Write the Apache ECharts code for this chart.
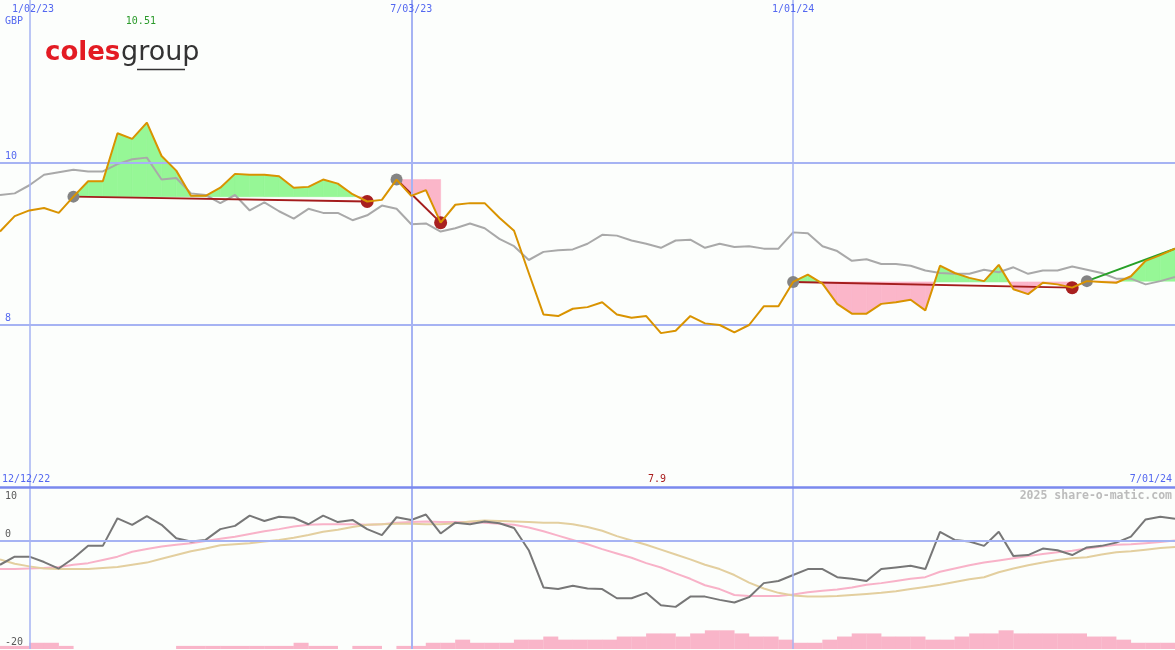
<!DOCTYPE html>
<html><head><meta charset="utf-8">
<script src="https://cdn.jsdelivr.net/npm/echarts@6/dist/echarts.min.js"></script>
<style>html,body{margin:0;padding:0;background:#fcfefc;}#c{width:1175px;height:650px;}</style>
</head><body><div id="c"></div>
<script>
// ---- data (weekly, index 0 = week of 19 Dec 2022, index 80 = 1 Jul 2024) ----
const weekTickIdx = [2, 28, 54];
const weekTickLabels = ['1/02/23', '7/03/23', '1/01/24'];
const startLabel = '12/12/22';
const endLabel = '7/01/24';
const currency = 'GBP';
const maxLabel = '10.51';
const minLabel = '7.9';
const priceTicks = [10, 8];
const momTicks = [10, 0, -20];

const price = [
  9.15, 9.34, 9.41, 9.44, 9.38, 9.58, 9.77, 9.77, 10.36, 10.29,
  10.49, 10.08, 9.90, 9.59, 9.59, 9.69, 9.86, 9.85, 9.85, 9.83,
  9.69, 9.70, 9.79, 9.74, 9.61, 9.52, 9.54, 9.79, 9.59, 9.66,
  9.26, 9.48, 9.50, 9.50, 9.32, 9.16, 8.64, 8.13, 8.11, 8.20,
  8.22, 8.28, 8.13, 8.09, 8.11, 7.90, 7.93, 8.11, 8.02, 8.00,
  7.91, 8.00, 8.23, 8.23, 8.53, 8.62, 8.51, 8.26, 8.14, 8.14,
  8.26, 8.28, 8.31, 8.18, 8.73, 8.64, 8.58, 8.54, 8.74, 8.44,
  8.38, 8.52, 8.50, 8.46, 8.54, 8.53, 8.52, 8.60, 8.79, 8.86,
  8.94
];
const indexLine = [
  9.60, 9.62, 9.72, 9.85, 9.88, 9.91, 9.89, 9.89, 9.98, 10.04,
  10.06, 9.79, 9.81, 9.62, 9.60, 9.50, 9.60, 9.41, 9.51, 9.40,
  9.31, 9.43, 9.38, 9.38, 9.29, 9.35, 9.47, 9.43, 9.24, 9.25,
  9.15, 9.19, 9.25, 9.19, 9.06, 8.97, 8.80, 8.90, 8.92, 8.93,
  9.00, 9.11, 9.10, 9.04, 9.00, 8.95, 9.04, 9.05, 8.95, 9.00,
  8.96, 8.97, 8.94, 8.94, 9.14, 9.13, 8.97, 8.91, 8.79, 8.81,
  8.75, 8.75, 8.73, 8.67, 8.64, 8.63, 8.63, 8.68, 8.65, 8.71,
  8.63, 8.67, 8.67, 8.72, 8.68, 8.64, 8.57, 8.57, 8.50, 8.54,
  8.59
];
const momentum = [
  -4.4, -2.9, -2.9, -3.9, -5.1, -3.2, -0.9, -0.9, 4.2, 3.0,
  4.6, 3.0, 0.5, -0.1, 0.2, 2.2, 2.8, 4.7, 3.7, 4.5,
  4.3, 3.1, 4.7, 3.5, 3.9, 2.2, 1.1, 4.4, 3.9, 4.9,
  1.4, 3.4, 3.1, 3.6, 3.3, 2.4, -1.7, -8.6, -8.9, -8.3,
  -8.8, -8.9, -10.6, -10.6, -9.6, -11.9, -12.2, -10.3, -10.3, -10.9,
  -11.4, -10.4, -7.8, -7.4, -6.3, -5.2, -5.2, -6.7, -7.0, -7.4,
  -5.2, -4.9, -4.6, -5.2, 1.7, 0.2, -0.1, -0.9, 1.7, -2.8,
  -2.6, -1.4, -1.7, -2.6, -1.2, -0.9, -0.3, 0.8, 4.0, 4.5,
  4.1
];
const momAvgFast = [
  -5.2, -5.2, -5.1, -5.0, -4.8, -4.4, -4.1, -3.5, -2.9, -2.0,
  -1.5, -1.0, -0.7, -0.4, 0.0, 0.4, 0.8, 1.3, 1.8, 2.2,
  2.7, 3.0, 3.1, 3.1, 3.1, 3.0, 3.1, 3.4, 3.5, 3.6,
  3.5, 3.5, 3.5, 3.4, 3.2, 3.0, 2.5, 1.8, 1.0, 0.2,
  -0.6, -1.5, -2.3, -3.1, -4.1, -4.9, -6.0, -7.0, -8.2, -8.9,
  -10.0, -10.2, -10.2, -10.2, -9.9, -9.5, -9.2, -9.0, -8.6, -8.1,
  -7.8, -7.4, -7.0, -6.7, -5.7, -5.1, -4.5, -4.0, -3.6, -3.2,
  -2.8, -2.4, -2.1, -1.8, -1.4, -1.0, -0.7, -0.6, -0.4, -0.2,
  0.1
];
const momAvgSlow = [
  -3.4, -4.2, -4.7, -5.1, -5.2, -5.2, -5.2, -5.0, -4.8, -4.4,
  -4.0, -3.3, -2.6, -1.9, -1.4, -0.8, -0.6, -0.4, -0.1, 0.2,
  0.6, 1.1, 1.7, 2.1, 2.6, 3.0, 3.1, 3.2, 3.2, 3.1,
  3.1, 3.3, 3.6, 3.8, 3.7, 3.6, 3.5, 3.4, 3.4, 3.1,
  2.6, 1.9, 0.9, 0.1, -0.7, -1.6, -2.5, -3.4, -4.4, -5.2,
  -6.3, -7.7, -8.8, -9.6, -10.1, -10.3, -10.3, -10.2, -10.0, -9.8,
  -9.6, -9.3, -8.9, -8.5, -8.1, -7.6, -7.1, -6.7, -5.8, -5.1,
  -4.5, -4.0, -3.5, -3.2, -3.0, -2.5, -2.1, -1.9, -1.6, -1.3,
  -1.1
];
// relative weekly volume (bar k spans week k .. k+1)
const volumeLevel = [
  1, 1, 2, 2, 1, 0, 0, 0, 0, 0,
  0, 0, 1, 1, 1, 1, 1, 1, 1, 1,
  2, 1, 1, 0, 1, 1, 0, 1, 1, 2,
  2, 3, 2, 2, 2, 3, 3, 4, 3, 3,
  3, 3, 4, 4, 5, 5, 4, 5, 6, 6,
  5, 4, 4, 3, 2, 2, 3, 4, 5, 5,
  4, 4, 4, 3, 3, 4, 5, 5, 6, 5,
  5, 5, 5, 5, 4, 4, 3, 2, 2, 2
];
// trades: [entry week index, exit week index]
const closedTrades = [[5, 25], [27, 30], [54, 73]];
const openTrade = [74, 80];

// ---- styles ----
const GRID = '#a6b3f3', SEP = '#7a89ee', BLUE_TXT = '#5468f0';
const ORANGE = '#d99300', GRAY = '#a9a9a9';
const GREEN_FILL = '#96f796', PINK_FILL = '#fbb6c9';
const TRADE_RED = '#a41c1c', DOT_RED = '#a82020', DOT_GRAY = '#848484', TREND_GREEN = '#27a027';
const MOM = '#777777', FAST = '#f8b2c8', SLOW = '#e3cf9f', VOL = '#f9b5c9';
const MONO = '"DejaVu Sans Mono", monospace';

const pairs = arr => arr.map((v, i) => [i, v]);
const allTrades = closedTrades.concat([openTrade]);

function tradeFill(params, api) {
  const s = api.value(0), e = api.value(1), E = api.value(2);
  const kids = [];
  const poly = (x0, y0, x1, y1, sign) => {
    if (sign === 0) return;
    const c = sign > 0 ? GREEN_FILL : PINK_FILL;
    kids.push({
      type: 'polygon',
      shape: { points: [api.coord([x0, E]), api.coord([x0, y0]), api.coord([x1, y1]), api.coord([x1, E])] },
      style: { fill: c, stroke: c, lineWidth: 0.6 }
    });
  };
  for (let i = s; i < e; i++) {
    const a = price[i] - E, b = price[i + 1] - E;
    if (a * b < 0) {
      const xm = i + a / (a - b);
      poly(i, price[i], xm, E, a);
      poly(xm, E, i + 1, price[i + 1], b);
    } else {
      poly(i, price[i], i + 1, price[i + 1], a + b);
    }
  }
  return { type: 'group', children: kids };
}

const vLines = weekTickIdx.map((x, k) => ({ xAxis: x, lineStyle: { width: k === 1 ? 2 : 1.5 } }));
const mlBase = { silent: true, symbol: ['none', 'none'], label: { show: false }, emphasis: { disabled: true }, animation: false };

const series = [
  { type: 'custom', name: 'fills', xAxisIndex: 0, yAxisIndex: 0, silent: true, z: 1,
    renderItem: tradeFill, encode: { x: [0, 1], y: 2 },
    data: allTrades.map(t => [t[0], t[1], price[t[0]]]) },
  { type: 'line', name: 'gridTop', xAxisIndex: 0, yAxisIndex: 0, data: [], z: 2,
    markLine: Object.assign({}, mlBase, { lineStyle: { color: GRID, width: 2, type: 'solid' },
      data: priceTicks.map(v => ({ yAxis: v })).concat(vLines) }) },
  { type: 'line', name: 'index', xAxisIndex: 0, yAxisIndex: 0, data: pairs(indexLine), z: 3,
    symbol: 'none', lineStyle: { color: GRAY, width: 2 }, itemStyle: { color: GRAY } }
];
closedTrades.forEach(t => series.push({
  type: 'line', xAxisIndex: 0, yAxisIndex: 0, z: 4, symbol: 'none',
  data: [[t[0], price[t[0]]], [t[1], price[t[1]]]], lineStyle: { color: TRADE_RED, width: 2 }
}));
series.push({
  type: 'line', xAxisIndex: 0, yAxisIndex: 0, z: 4, symbol: 'none',
  data: [[openTrade[0], price[openTrade[0]]], [openTrade[1], price[openTrade[1]]]],
  lineStyle: { color: TREND_GREEN, width: 2 }
});
series.push({
  type: 'scatter', name: 'entries', xAxisIndex: 0, yAxisIndex: 0, z: 5, symbolSize: 12,
  data: allTrades.map(t => [t[0], price[t[0]]]), itemStyle: { color: DOT_GRAY, opacity: 1 }
});
series.push({
  type: 'scatter', name: 'exits', xAxisIndex: 0, yAxisIndex: 0, z: 5, symbolSize: 13,
  data: closedTrades.map(t => [t[1], price[t[1]]]), itemStyle: { color: DOT_RED, opacity: 1 }
});
series.push({
  type: 'line', name: 'price', xAxisIndex: 0, yAxisIndex: 0, data: pairs(price), z: 6,
  symbol: 'none', lineStyle: { color: ORANGE, width: 2 }, itemStyle: { color: ORANGE }
});
// lower panel
series.push({
  type: 'bar', name: 'volume', xAxisIndex: 1, yAxisIndex: 2, z: 1, barWidth: 15,
  data: volumeLevel.map((v, k) => [k + 0.5, v]), itemStyle: { color: VOL }
});
series.push({
  type: 'line', name: 'gridBottom', xAxisIndex: 1, yAxisIndex: 1, data: [], z: 2,
  markLine: Object.assign({}, mlBase, { lineStyle: { color: GRID, width: 2, type: 'solid' },
    data: [{ yAxis: 0 }].concat(vLines).concat([{ yAxis: 10, lineStyle: { color: SEP, width: 2.5 } }]) })
});
series.push({ type: 'line', name: 'fast', xAxisIndex: 1, yAxisIndex: 1, data: pairs(momAvgFast), z: 3,
  symbol: 'none', lineStyle: { color: FAST, width: 2 } });
series.push({ type: 'line', name: 'slow', xAxisIndex: 1, yAxisIndex: 1, data: pairs(momAvgSlow), z: 3,
  symbol: 'none', lineStyle: { color: SLOW, width: 2 } });
series.push({ type: 'line', name: 'momentum', xAxisIndex: 1, yAxisIndex: 1, data: pairs(momentum), z: 4,
  symbol: 'none', lineStyle: { color: MOM, width: 2 } });

const lastIdx = price.length - 1;
const option = {
  animation: false,
  backgroundColor: '#fcfefc',
  grid: [
    { left: 0, right: 0, top: 0, height: 487.5, containLabel: false },
    { left: 0, right: 0, top: 487, height: 162, containLabel: false }
  ],
  xAxis: [
    { type: 'value', gridIndex: 0, min: 0, max: lastIdx, show: false },
    { type: 'value', gridIndex: 1, min: 0, max: lastIdx, show: false }
  ],
  yAxis: [
    { type: 'value', gridIndex: 0, min: 6, max: 12, show: false },
    { type: 'value', gridIndex: 1, min: -20, max: 10, show: false },
    { type: 'value', gridIndex: 1, min: 0, max: 52, show: false }
  ],
  series: series
};

const chart = echarts.init(document.getElementById('c'), null, { renderer: 'canvas' });
chart.setOption(option);

const X = (ax, v) => chart.convertToPixel({ xAxisIndex: ax }, v);
const Y = (ax, v) => chart.convertToPixel({ yAxisIndex: ax }, v);
const txt = (x, y, text, color, align, va, font) => ({
  type: 'text', x: x, y: y, silent: true, z: 100,
  style: { text: text, fill: color, font: font, align: align, textAlign: align, verticalAlign: va, textVerticalAlign: va }
});
const F10 = '10px ' + MONO;
const g = [];
// top date ticks
weekTickIdx.forEach((idx, k) => g.push(txt(Math.max(X(0, idx), 33), 9, weekTickLabels[k], BLUE_TXT, 'center', 'middle', F10)));
g.push(txt(5, 21, currency, BLUE_TXT, 'left', 'middle', F10));
const maxI = price.indexOf(Math.max.apply(null, price));
const minI = price.indexOf(Math.min.apply(null, price));
g.push(txt(X(0, maxI) - 6, 21, maxLabel, '#2a9a2a', 'center', 'middle', F10));
priceTicks.forEach(v => g.push(txt(5, Y(0, v) - 1.5, String(v), BLUE_TXT, 'left', 'bottom', F10)));
const lowTop = Y(1, 10);
momTicks.forEach(v => {
  const p = Y(1, v);
  if (p - 12 < lowTop) g.push(txt(5, p + 4, String(v), '#5a5a5a', 'left', 'top', F10));
  else g.push(txt(5, p - 2, String(v), '#5a5a5a', 'left', 'bottom', F10));
});
g.push(txt(2, lowTop - 8, startLabel, BLUE_TXT, 'left', 'middle', F10));
g.push(txt(X(0, minI) - 4, lowTop - 8, minLabel, '#a81c1c', 'center', 'middle', F10));
g.push(txt(1172, lowTop - 8, endLabel, BLUE_TXT, 'right', 'middle', F10));
g.push(txt(1172, lowTop + 9, '2025 share-o-matic.com', '#bcbcbc', 'right', 'middle', 'bold 11.5px ' + MONO));
// logo
g.push(txt(45, 53, 'coles', '#e31b23', 'left', 'middle', 'bold 26px "DejaVu Sans"'));
g.push(txt(121, 53, 'group', '#333333', 'left', 'middle', '27px "DejaVu Sans"'));
g.push({ type: 'line', silent: true, z: 100, shape: { x1: 137, y1: 69.5, x2: 185, y2: 69.5 }, style: { stroke: '#333333', lineWidth: 1.5 } });
chart.setOption({ graphic: g });
</script></body></html>
